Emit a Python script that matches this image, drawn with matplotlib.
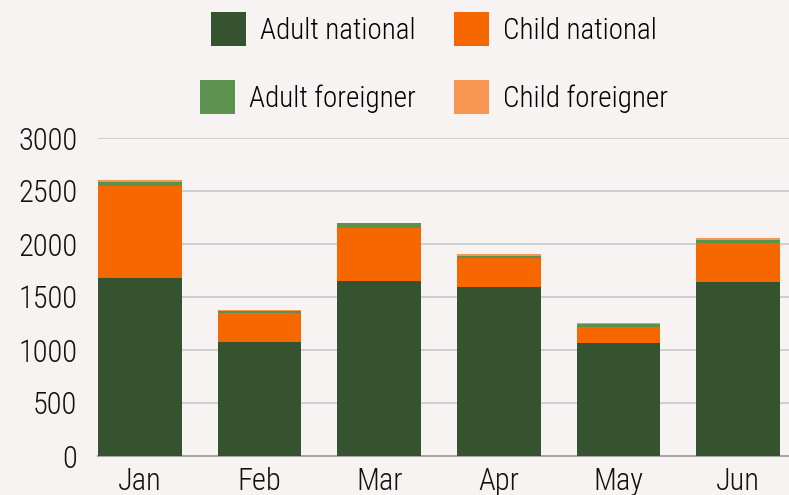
import matplotlib
matplotlib.use('Agg')
import matplotlib.pyplot as plt
import matplotlib.font_manager as fm
import numpy as np

# monthly visitors, stacked by group
months = ['Jan', 'Feb', 'Mar', 'Apr', 'May', 'Jun']
adult_national = [1680, 1080, 1650, 1595, 1065, 1640]
child_national = [870, 265, 505, 275, 150, 370]
adult_foreigner = [35, 25, 45, 20, 28, 30]
child_foreigner = [20, 10, 0, 18, 10, 18]

series = [
    ('Adult national', adult_national, '#36532f'),
    ('Child national', child_national, '#f76700'),
    ('Adult foreigner', adult_foreigner, '#5c914e'),
    ('Child foreigner', child_foreigner, '#f79552'),
]

bg = '#f7f3f2'

# the original uses a narrow font, take whatever condensed face is installed
fonts = fm.fontManager.ttflist
found = None
for nm in ['Liberation Sans Narrow', 'Roboto Condensed', 'Noto Sans Condensed',
           'Open Sans Condensed', 'DejaVu Sans Condensed']:
    if any(f.name == nm for f in fonts):
        found = (nm, 'normal')
        break
if found is None:
    for f in fonts:
        if f.stretch in ('condensed', 'semi-condensed', 'extra-condensed', 75, 87, 62.5) \
                and f.style == 'normal' and f.weight in (400, 'normal', 'regular'):
            found = (f.name, f.stretch)
            break
if found is None:
    found = ('Roboto', 'normal')
plt.rcParams['font.family'] = [found[0], 'DejaVu Sans']
plt.rcParams['font.stretch'] = found[1]
plt.rcParams['font.weight'] = 'light'

fig = plt.figure(figsize=(7.89, 4.95), dpi=100, facecolor=bg)
ax = fig.add_axes([98 / 789, 1 - 456 / 495, 1 - 98 / 789, (456 - 138) / 495])
ax.set_facecolor(bg)

x = np.arange(len(months))
bottom = np.zeros(len(months))
bars = []
for name, vals, col in series:
    b = ax.bar(x, vals, width=0.7, bottom=bottom, color=col, label=name, zorder=3)
    bars.append(b)
    bottom += np.array(vals)

ax.set_xlim(-0.35, 5.425)
ax.set_ylim(0, 3000)
ax.set_yticks(range(0, 3001, 500))
ax.set_xticks(x)
ax.set_xticklabels(months)
ax.yaxis.grid(True, color='#c8c8c8', linewidth=1.2, zorder=0)
for s in ['top', 'right', 'left']:
    ax.spines[s].set_visible(False)
ax.spines['bottom'].set_color('#a8a8a8')
ax.spines['bottom'].set_linewidth(1.5)
ax.tick_params(axis='both', length=0, labelsize=22, colors='#111111')
ax.tick_params(axis='y', pad=15)
ax.tick_params(axis='x', pad=8)

leg_kw = dict(ncol=2, frameon=False, fontsize=21, handlelength=1.2, handleheight=1.4,
              handletextpad=0.5, columnspacing=1.3, loc='center')
fig.legend(bars[:2], [s[0] for s in series[:2]], bbox_to_anchor=(434 / 789, 1 - 29 / 495), **leg_kw)
fig.legend(bars[2:], [s[0] for s in series[2:]], bbox_to_anchor=(434 / 789, 1 - 97 / 495), **leg_kw)

fig.savefig('out.png', dpi=100, facecolor=bg)
